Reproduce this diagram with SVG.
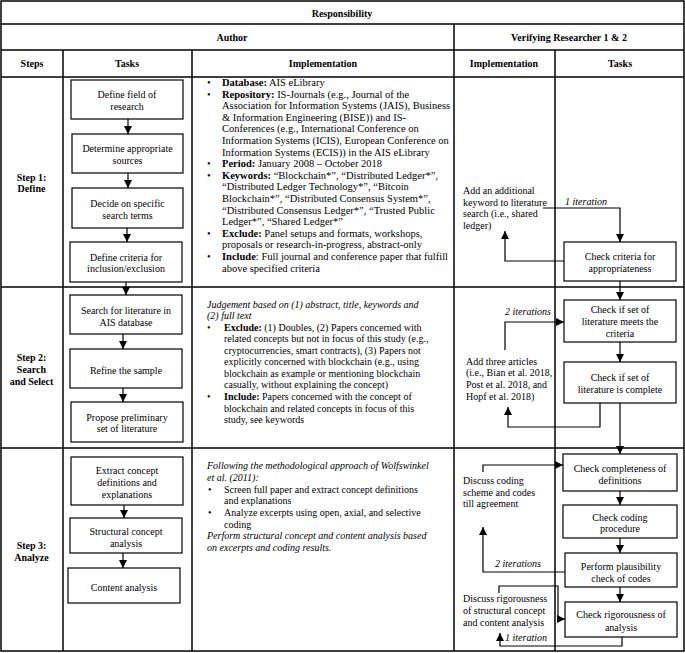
<svg xmlns="http://www.w3.org/2000/svg" width="685" height="653" viewBox="0 0 685 653">
<style>
text{font-family:"Liberation Serif","Times New Roman",serif;font-size:10px;fill:#000}
.h{font-weight:bold}
.c{text-anchor:middle}
.b{font-weight:bold}
.i{font-style:italic}
.imp1 text{font-size:10.5px}
.grid{stroke:#000;stroke-width:1.5;fill:none}
.box{fill:#fff;stroke:#000;stroke-width:1.2}
.con{fill:none;stroke:#000;stroke-width:1.2}
</style>
<defs>
<marker id="ah" markerUnits="userSpaceOnUse" markerWidth="8" markerHeight="8" refX="8" refY="4" orient="auto">
<path d="M0,0 L8,4 L0,8 z" fill="#000"/>
</marker>
</defs>
<rect width="685" height="653" fill="#fff"/>
<g id="table" class="grid">
<rect x="1" y="1" width="683" height="650"/>
<line x1="1" y1="24" x2="684" y2="24"/>
<line x1="1" y1="50" x2="684" y2="50"/>
<line x1="1" y1="77" x2="684" y2="77"/>
<line x1="1" y1="287" x2="684" y2="287"/>
<line x1="1" y1="448" x2="684" y2="448"/>
<line x1="454" y1="24" x2="454" y2="651"/>
<line x1="63" y1="50" x2="63" y2="651"/>
<line x1="192" y1="50" x2="192" y2="651"/>
<line x1="555" y1="50" x2="555" y2="651"/>
</g>
<g id="headers">
<text class="h c" x="342" y="17">Responsibility</text>
<text class="h c" x="232" y="41">Author</text>
<text class="h c" x="569" y="41">Verifying Researcher 1 &amp; 2</text>
<text class="h c" x="32" y="67">Steps</text>
<text class="h c" x="127" y="67">Tasks</text>
<text class="h c" x="323" y="67">Implementation</text>
<text class="h c" x="504" y="67">Implementation</text>
<text class="h c" x="620" y="67">Tasks</text>
</g>
<g id="steps">
<text class="h c" x="31.5" y="180.5">Step 1:</text>
<text class="h c" x="31.5" y="192">Define</text>
<text class="h c" x="31.5" y="360.5">Step 2:</text>
<text class="h c" x="31.5" y="372.5">Search</text>
<text class="h c" x="31.5" y="384.5">and Select</text>
<text class="h c" x="31.5" y="548.5">Step 3:</text>
<text class="h c" x="31.5" y="560.5">Analyze</text>
</g>
<g id="impl1" class="imp1">
<text x="207" y="86">•</text><text x="222" y="86"><tspan class="b">Database:</tspan> AIS eLibrary</text>
<text x="207" y="97.6">•</text><text x="222" y="97.6"><tspan class="b">Repository:</tspan> IS-Journals (e.g., Journal of the</text>
<text x="222" y="109.2">Association for Information Systems (JAIS), Business</text>
<text x="222" y="120.8">&amp; Information Engineering (BISE)) and IS-</text>
<text x="222" y="132.4">Conferences (e.g., International Conference on</text>
<text x="222" y="144">Information Systems (ICIS), European Conference on</text>
<text x="222" y="155.6">Information Systems (ECIS)) in the AIS eLibrary</text>
<text x="207" y="167.2">•</text><text x="222" y="167.2"><tspan class="b">Period:</tspan> January 2008 – October 2018</text>
<text x="207" y="178.8">•</text><text x="222" y="178.8"><tspan class="b">Keywords:</tspan> “Blockchain*”, “Distributed Ledger*”,</text>
<text x="222" y="190.4">“Distributed Ledger Technology*”, “Bitcoin</text>
<text x="222" y="202">Blockchain*”, “Distributed Consensus System*”,</text>
<text x="222" y="213.6">“Distributed Consensus Ledger*”, “Trusted Public</text>
<text x="222" y="225.2">Ledger*”, “Shared Ledger*”</text>
<text x="207" y="236.8">•</text><text x="222" y="236.8"><tspan class="b">Exclude:</tspan> Panel setups and formats, workshops,</text>
<text x="222" y="248.4">proposals or research-in-progress, abstract-only</text>
<text x="207" y="260">•</text><text x="222" y="260"><tspan class="b">Include</tspan>: Full journal and conference paper that fulfill</text>
<text x="222" y="271.6">above specified criteria</text>
</g>
<g id="impl2">
<text class="i" x="207" y="307.5">Judgement based on (1) abstract, title, keywords and</text>
<text class="i" x="207" y="319">(2) full text</text>
<text x="207" y="330.5">•</text><text x="224" y="330.5"><tspan class="b">Exclude:</tspan> (1) Doubles, (2) Papers concerned with</text>
<text x="224" y="342">related concepts but not in focus of this study (e.g.,</text>
<text x="224" y="353.5">cryptocurrencies, smart contracts), (3) Papers not</text>
<text x="224" y="365">explicitly concerned with blockchain (e.g., using</text>
<text x="224" y="376.5">blockchain as example or mentioning blockchain</text>
<text x="224" y="388">casually, without explaining the concept)</text>
<text x="207" y="400">•</text><text x="224" y="400"><tspan class="b">Include:</tspan> Papers concerned with the concept of</text>
<text x="224" y="411.5">blockchain and related concepts in focus of this</text>
<text x="224" y="423">study, see keywords</text>
</g>
<g id="impl3">
<text class="i" x="207" y="469">Following the methodological approach of Wolfswinkel</text>
<text class="i" x="207" y="481">et al. (2011):</text>
<text x="208" y="492.7">•</text><text x="224" y="492.7">Screen full paper and extract concept definitions</text>
<text x="224" y="504.3">and explanations</text>
<text x="208" y="515.9">•</text><text x="224" y="515.9">Analyze excerpts using open, axial, and selective</text>
<text x="224" y="527.5">coding</text>
<text class="i" x="207" y="539.1">Perform structural concept and content analysis based</text>
<text class="i" x="207" y="550.7">on excerpts and coding results.</text>
</g>
<g id="t1"><rect class="box" x="71" y="80" width="112" height="39"/><text class="c" x="127" y="97.5">Define field of</text><text class="c" x="127" y="110">research</text></g>
<g id="t2"><rect class="box" x="72" y="134" width="111" height="39"/><text class="c" x="127.5" y="151.5">Determine appropriate</text><text class="c" x="127.5" y="164">sources</text></g>
<g id="t3"><rect class="box" x="72" y="188" width="111" height="40"/><text class="c" x="127.5" y="206.5">Decide on specific</text><text class="c" x="127.5" y="218.5">search terms</text></g>
<g id="t4"><rect class="box" x="70" y="242" width="112" height="40"/><text class="c" x="126" y="260.5">Define criteria for</text><text class="c" x="126" y="272">inclusion/exclusion</text></g>
<g id="t5"><rect class="box" x="70" y="295" width="112" height="39"/><text class="c" x="126" y="313.5">Search for literature in</text><text class="c" x="126" y="325.5">AIS database</text></g>
<g id="t6"><rect class="box" x="70" y="349" width="112" height="39"/><text class="c" x="126" y="373.5">Refine the sample</text></g>
<g id="t7"><rect class="box" x="71" y="402" width="112" height="40"/><text class="c" x="127" y="420.5">Propose preliminary</text><text class="c" x="127" y="432">set of literature</text></g>
<g id="t8"><rect class="box" x="71" y="457" width="112" height="48"/><text class="c" x="127" y="473.5">Extract concept</text><text class="c" x="127" y="485.5">definitions and</text><text class="c" x="127" y="497.5">explanations</text></g>
<g id="t9"><rect class="box" x="70" y="518" width="112" height="35"/><text class="c" x="126" y="534.5">Structural concept</text><text class="c" x="126" y="546.5">analysis</text></g>
<g id="t10"><rect class="box" x="68" y="568" width="112" height="35"/><text class="c" x="124" y="590.5">Content analysis</text></g>
<g id="r1"><rect class="box" x="564" y="242" width="112" height="39"/><text class="c" x="620" y="259.5">Check criteria for</text><text class="c" x="620" y="271.5">appropriateness</text></g>
<g id="r2"><rect class="box" x="564" y="300" width="112" height="42"/><text class="c" x="620" y="312.5">Check if set of</text><text class="c" x="620" y="324.5">literature meets the</text><text class="c" x="620" y="336.5">criteria</text></g>
<g id="r3"><rect class="box" x="564" y="362" width="112" height="41"/><text class="c" x="620" y="380.5">Check if set of</text><text class="c" x="620" y="392.5">literature is complete</text></g>
<g id="r4"><rect class="box" x="563" y="454" width="114" height="37"/><text class="c" x="620" y="471.5">Check completeness of</text><text class="c" x="620" y="483.5">definitions</text></g>
<g id="r5"><rect class="box" x="563" y="505" width="114" height="33"/><text class="c" x="620" y="520.5">Check coding</text><text class="c" x="620" y="532">procedure</text></g>
<g id="r6"><rect class="box" x="565" y="553" width="112" height="34"/><text class="c" x="621" y="569.5">Perform plausibility</text><text class="c" x="621" y="581.5">check of codes</text></g>
<g id="r7"><rect class="box" x="565" y="602" width="112" height="35"/><text class="c" x="621" y="617.5">Check rigorousness of</text><text class="c" x="621" y="631">analysis</text></g>
<g id="notes">
<text x="463" y="193.5">Add an additional</text>
<text x="463" y="205.5">keyword to literature</text>
<text x="463" y="217">search (i.e., shared</text>
<text x="463" y="228.5">ledger)</text>
<text x="466" y="364.5">Add three articles</text>
<text x="466" y="376.2">(i.e., Bian et al. 2018,</text>
<text x="466" y="387.9">Post et al. 2018, and</text>
<text x="466" y="399.6">Hopf et al. 2018)</text>
<text x="463" y="483.5">Discuss coding</text>
<text x="463" y="495.5">scheme and codes</text>
<text x="463" y="507">till agreement</text>
<text x="463" y="601.5">Discuss rigorousness</text>
<text x="463" y="613.5">of structural concept</text>
<text x="463" y="625.5">and content analysis</text>
<text class="i" x="565" y="204.5">1 iteration</text>
<text class="i" x="505" y="314.5">2 iterations</text>
<text class="i" x="495" y="566.5">2 iterations</text>
<text class="i" x="505" y="640.5">1 iteration</text>
</g>
<g id="connectors" class="con">
<path d="M128,119 V134" marker-end="url(#ah)"/>
<path d="M128,173 V188" marker-end="url(#ah)"/>
<path d="M127,228 V242" marker-end="url(#ah)"/>
<path d="M126,282 V295" marker-end="url(#ah)"/>
<path d="M123,334 V349" marker-end="url(#ah)"/>
<path d="M123,388 V402" marker-end="url(#ah)"/>
<path d="M124,505 V518" marker-end="url(#ah)"/>
<path d="M123,553 V568" marker-end="url(#ah)"/>
<path d="M543,208 H620 V242" marker-end="url(#ah)"/>
<path d="M564,261 H505 V231" marker-end="url(#ah)"/>
<path d="M620,281 V300" marker-end="url(#ah)"/>
<path d="M505,350 V322 H564" marker-end="url(#ah)"/>
<path d="M620,342 V362" marker-end="url(#ah)"/>
<path d="M600,403 V427 H508 V407" marker-end="url(#ah)"/>
<path d="M620,403 V454" marker-end="url(#ah)"/>
<path d="M483,472 V465 H563" marker-end="url(#ah)"/>
<path d="M620,491 V505" marker-end="url(#ah)"/>
<path d="M620,538 V553" marker-end="url(#ah)"/>
<path d="M565,572 H483 V527" marker-end="url(#ah)"/>
<path d="M620,587 V602" marker-end="url(#ah)"/>
<path d="M499,593 V586 H558 V619 H565" marker-end="url(#ah)"/>
<path d="M622,637 V646 H500 V633" marker-end="url(#ah)"/>
</g>
</svg>
